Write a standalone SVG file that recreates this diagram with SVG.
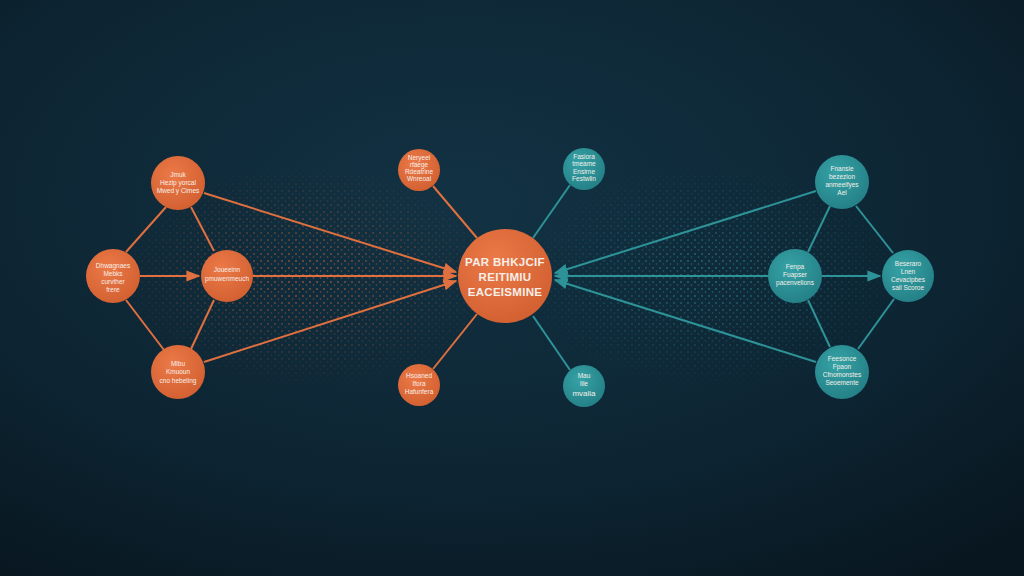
<svg xmlns="http://www.w3.org/2000/svg" width="1024" height="576" viewBox="0 0 1024 576">
  <defs>
    <radialGradient id="bg" cx="0.45" cy="0.35" r="0.8">
      <stop offset="0" stop-color="#123243"/>
      <stop offset="0.6" stop-color="#0d2533"/>
      <stop offset="1" stop-color="#08161f"/>
    </radialGradient>
    <radialGradient id="og" cx="0.4" cy="0.35" r="0.7">
      <stop offset="0" stop-color="#ec7a48"/>
      <stop offset="1" stop-color="#d25f30"/>
    </radialGradient>
    <radialGradient id="tg" cx="0.4" cy="0.35" r="0.7">
      <stop offset="0" stop-color="#36a3a6"/>
      <stop offset="1" stop-color="#237f86"/>
    </radialGradient>
    <pattern id="dotsO" width="7" height="7" patternUnits="userSpaceOnUse">
      <circle cx="2" cy="2" r="1" fill="#d9663a"/>
      <circle cx="5.5" cy="5" r="0.8" fill="#d9663a"/>
    </pattern>
    <pattern id="dotsT" width="7" height="7" patternUnits="userSpaceOnUse">
      <circle cx="2" cy="2" r="1" fill="#2e9398"/>
      <circle cx="5.5" cy="5" r="0.8" fill="#2e9398"/>
    </pattern>
    <radialGradient id="fadeL" cx="0.5" cy="0.5" r="0.5">
      <stop offset="0" stop-color="#fff" stop-opacity="0.9"/>
      <stop offset="1" stop-color="#fff" stop-opacity="0"/>
    </radialGradient>
    <mask id="mL"><ellipse cx="310" cy="276" rx="200" ry="115" fill="url(#fadeL)"/></mask>
    <mask id="mR"><ellipse cx="710" cy="276" rx="200" ry="115" fill="url(#fadeL)"/></mask>
    <marker id="ao" viewBox="0 0 10 10" refX="9" refY="5" markerWidth="7" markerHeight="7" orient="auto">
      <path d="M0,1 L10,5 L0,9 z" fill="#e07040"/>
    </marker>
    <marker id="at" viewBox="0 0 10 10" refX="9" refY="5" markerWidth="7" markerHeight="7" orient="auto">
      <path d="M0,1 L10,5 L0,9 z" fill="#2e9398"/>
    </marker>
    <style>
      .eo{stroke:#e0703f;stroke-width:2;fill:none}
      .et{stroke:#2e9398;stroke-width:2;fill:none}
      .no{fill:url(#og)}
      .nt{fill:url(#tg)}
      text{font-family:"Liberation Sans","DejaVu Sans",sans-serif;fill:#f6efe9;text-anchor:middle}
      .s{font-size:6.5px}
      .c{font-size:11.5px;font-weight:bold;letter-spacing:0.3px}
    </style>
  </defs>
  <rect width="1024" height="576" fill="url(#bg)"/>
  <g id="particles" opacity="0.75">
    <rect x="110" y="160" width="400" height="235" fill="url(#dotsO)" mask="url(#mL)"/>
    <rect x="510" y="160" width="400" height="235" fill="url(#dotsT)" mask="url(#mR)"/>
  </g>
  <g id="connectors">
    <line class="eo" x1="166" y1="207" x2="126" y2="252"/>
    <line class="eo" x1="191" y1="207" x2="214" y2="251"/>
    <line class="eo" x1="140" y1="276" x2="199" y2="276" marker-end="url(#ao)"/>
    <line class="eo" x1="126" y1="300" x2="164" y2="350"/>
    <line class="eo" x1="214" y1="300" x2="191" y2="349"/>
    <line class="eo" x1="204" y1="193" x2="456" y2="272" marker-end="url(#ao)"/>
    <line class="eo" x1="253" y1="276" x2="456" y2="276" marker-end="url(#ao)"/>
    <line class="eo" x1="204" y1="362" x2="456" y2="281" marker-end="url(#ao)"/>
    <line class="eo" x1="433" y1="186" x2="477" y2="238"/>
    <line class="eo" x1="433" y1="369" x2="477" y2="314"/>
    <line class="et" x1="570" y1="185" x2="533" y2="238"/>
    <line class="et" x1="570" y1="370" x2="533" y2="316"/>
    <line class="et" x1="816" y1="191" x2="555" y2="273" marker-end="url(#at)"/>
    <line class="et" x1="768" y1="276" x2="555" y2="276" marker-end="url(#at)"/>
    <line class="et" x1="816" y1="362" x2="555" y2="280" marker-end="url(#at)"/>
    <line class="et" x1="830" y1="206" x2="808" y2="252"/>
    <line class="et" x1="856" y1="206" x2="893" y2="253"/>
    <line class="et" x1="822" y1="276" x2="880" y2="276" marker-end="url(#at)"/>
    <line class="et" x1="808" y1="300" x2="830" y2="347"/>
    <line class="et" x1="894" y1="299" x2="858" y2="349"/>
  </g>
  <g id="node-a"><circle class="no" cx="178" cy="183" r="27"/>
    <text class="s" x="178" y="177">Jmuk</text><text class="s" x="178" y="185">Hezip yorcal</text><text class="s" x="178" y="193">Mwed y Cimes</text></g>
  <g id="node-b"><circle class="no" cx="113" cy="276" r="27"/>
    <text class="s" x="113" y="268">Dhwagnaes</text><text class="s" x="113" y="276">Mebks</text><text class="s" x="113" y="284">curvther</text><text class="s" x="113" y="292">frere</text></g>
  <g id="node-c"><circle class="no" cx="227" cy="276" r="26"/>
    <text class="s" x="227" y="272">Joueeinn</text><text class="s" x="227" y="281">pmuwenmeuch</text></g>
  <g id="node-d"><circle class="no" cx="178" cy="372" r="27"/>
    <text class="s" x="178" y="366">Mlbu</text><text class="s" x="178" y="374">Kmuoun</text><text class="s" x="178" y="383">cno hebeling</text></g>
  <g id="node-e"><circle class="no" cx="419" cy="170" r="21"/>
    <text class="s" x="419" y="160">Neryeel</text><text class="s" x="419" y="167">rfaege</text><text class="s" x="419" y="174">Rdeatrine</text><text class="s" x="419" y="181">Wnreoal</text></g>
  <g id="node-center"><circle class="no" cx="505" cy="276" r="47"/>
    <text class="c" x="505" y="266">PAR BHKJCIF</text><text class="c" x="505" y="281">REITIMIU</text><text class="c" x="505" y="296">EACEISMINE</text></g>
  <g id="node-f"><circle class="no" cx="419" cy="385" r="21"/>
    <text class="s" x="419" y="378">Hsoaned</text><text class="s" x="419" y="386">Ifora</text><text class="s" x="419" y="394">Hafunfera</text></g>
  <g id="node-g"><circle class="nt" cx="584" cy="169" r="21"/>
    <text class="s" x="584" y="159">Fasiora</text><text class="s" x="584" y="166">tmeame</text><text class="s" x="584" y="174">Ensirne</text><text class="s" x="584" y="181">Festwlin</text></g>
  <g id="node-h"><circle class="nt" cx="584" cy="386" r="21"/>
    <text class="s" x="584" y="378">Mau</text><text class="s" x="584" y="386">lile</text><text class="s" x="584" y="396" style="font-size:8px">mvalia</text></g>
  <g id="node-i"><circle class="nt" cx="842" cy="182" r="27"/>
    <text class="s" x="842" y="171">Fnansie</text><text class="s" x="842" y="179">bezezion</text><text class="s" x="842" y="187">anmeeifyes</text><text class="s" x="842" y="195">Ael</text></g>
  <g id="node-j"><circle class="nt" cx="795" cy="276" r="27"/>
    <text class="s" x="795" y="269">Fenpa</text><text class="s" x="795" y="277">Fuapser</text><text class="s" x="795" y="285">pacenvelions</text></g>
  <g id="node-k"><circle class="nt" cx="908" cy="276" r="26"/>
    <text class="s" x="908" y="266">Beseraro</text><text class="s" x="908" y="274">Lnen</text><text class="s" x="908" y="282">Cevacipbes</text><text class="s" x="908" y="290">sail Scoroe</text></g>
  <g id="node-l"><circle class="nt" cx="842" cy="372" r="27"/>
    <text class="s" x="842" y="361">Feesonce</text><text class="s" x="842" y="369">Fpaon</text><text class="s" x="842" y="377">Cfnomonstes</text><text class="s" x="842" y="385">Seoemente</text></g>
</svg>
